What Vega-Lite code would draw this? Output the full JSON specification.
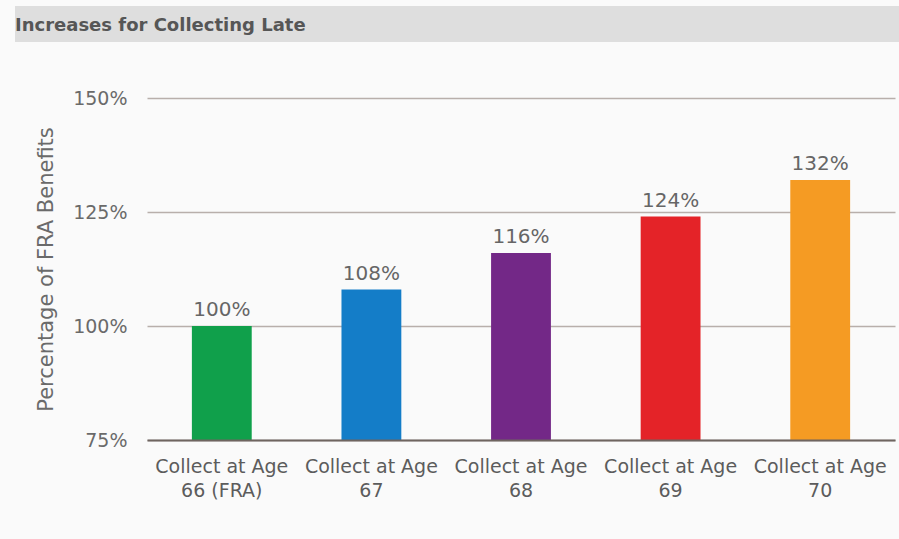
{
  "$schema": "https://vega.github.io/schema/vega-lite/v6.json",
  "width": 748,
  "height": 342,
  "autosize": {"type": "none"},
  "padding": {"left": 147, "top": 98, "right": 4, "bottom": 99},
  "background": "#fafafa",
  "config": {"view": {"stroke": null}, "font": "DejaVu Sans"},
  "data": {"values": [
    {"label": "66 (FRA)", "share": 1.00},
    {"label": "67", "share": 1.08},
    {"label": "68", "share": 1.16},
    {"label": "69", "share": 1.24},
    {"label": "70", "share": 1.32}
  ]},
  "layer": [
    {
      "data": {"values": [{"title": "Increases for Collecting Late"}]},
      "mark": {"type": "rect", "color": "#dedede"},
      "encoding": {
        "x": {"datum": "66 (FRA)", "type": "nominal", "bandPosition": -2.956, "scale": {"domain": ["66 (FRA)", "67", "68", "69", "70"], "paddingInner": 0.6, "paddingOuter": 0.3}},
        "x2": {"datum": "70", "bandPosition": 1.817},
        "y": {"datum": 1.702, "type": "quantitative", "scale": {"domain": [0.75, 1.5], "zero": false, "nice": false}},
        "y2": {"datum": 1.623}
      }
    },
    {
      "data": {"values": [{"title": "Increases for Collecting Late"}]},
      "mark": {"type": "text", "align": "left", "baseline": "alphabetic", "fontWeight": "bold", "fontSize": 18, "color": "#565656"},
      "encoding": {
        "x": {"datum": "66 (FRA)", "type": "nominal", "bandPosition": -2.956},
        "y": {"datum": 1.646, "type": "quantitative"},
        "text": {"field": "title"}
      }
    },
    {
      "mark": {"type": "bar"},
      "encoding": {
        "x": {
          "field": "label", "type": "nominal", "sort": null,
          "axis": {
            "title": null, "labelAngle": 0, "ticks": false, "grid": false, "bandPosition": 0.5,
            "labelExpr": "['Collect at Age', datum.label]",
            "labelFontSize": 19, "labelColor": "#5c5c5c", "labelPadding": 17, "labelLineHeight": 24,
            "labelBaseline": "top", "labelAlign": "center",
            "domainColor": "#6f6560", "domainWidth": 2
          }
        },
        "y": {
          "field": "share", "type": "quantitative",
          "axis": {
            "values": [0.75, 1.0, 1.25, 1.5], "format": ".0%",
            "grid": true, "gridColor": "#b8afab", "gridWidth": 1.5,
            "domain": false, "ticks": false, "labelPadding": 20,
            "labelFontSize": 19, "labelColor": "#6a6a6a",
            "title": "Percentage of FRA Benefits", "titleFontSize": 21, "titleFontWeight": "normal",
            "titleColor": "#6a6a6a", "titlePadding": 16
          }
        },
        "y2": {"datum": 0.75},
        "color": {
          "field": "label", "type": "nominal", "legend": null,
          "scale": {"domain": ["66 (FRA)", "67", "68", "69", "70"], "range": ["#10a04b", "#147dc8", "#732887", "#e42328", "#f59b23"]}
        }
      }
    },
    {
      "mark": {"type": "text", "baseline": "alphabetic", "dy": -10, "fontSize": 20, "color": "#666666"},
      "encoding": {
        "x": {"field": "label", "type": "nominal", "sort": null},
        "y": {"field": "share", "type": "quantitative"},
        "text": {"field": "share", "type": "quantitative", "format": ".0%"}
      }
    }
  ]
}
